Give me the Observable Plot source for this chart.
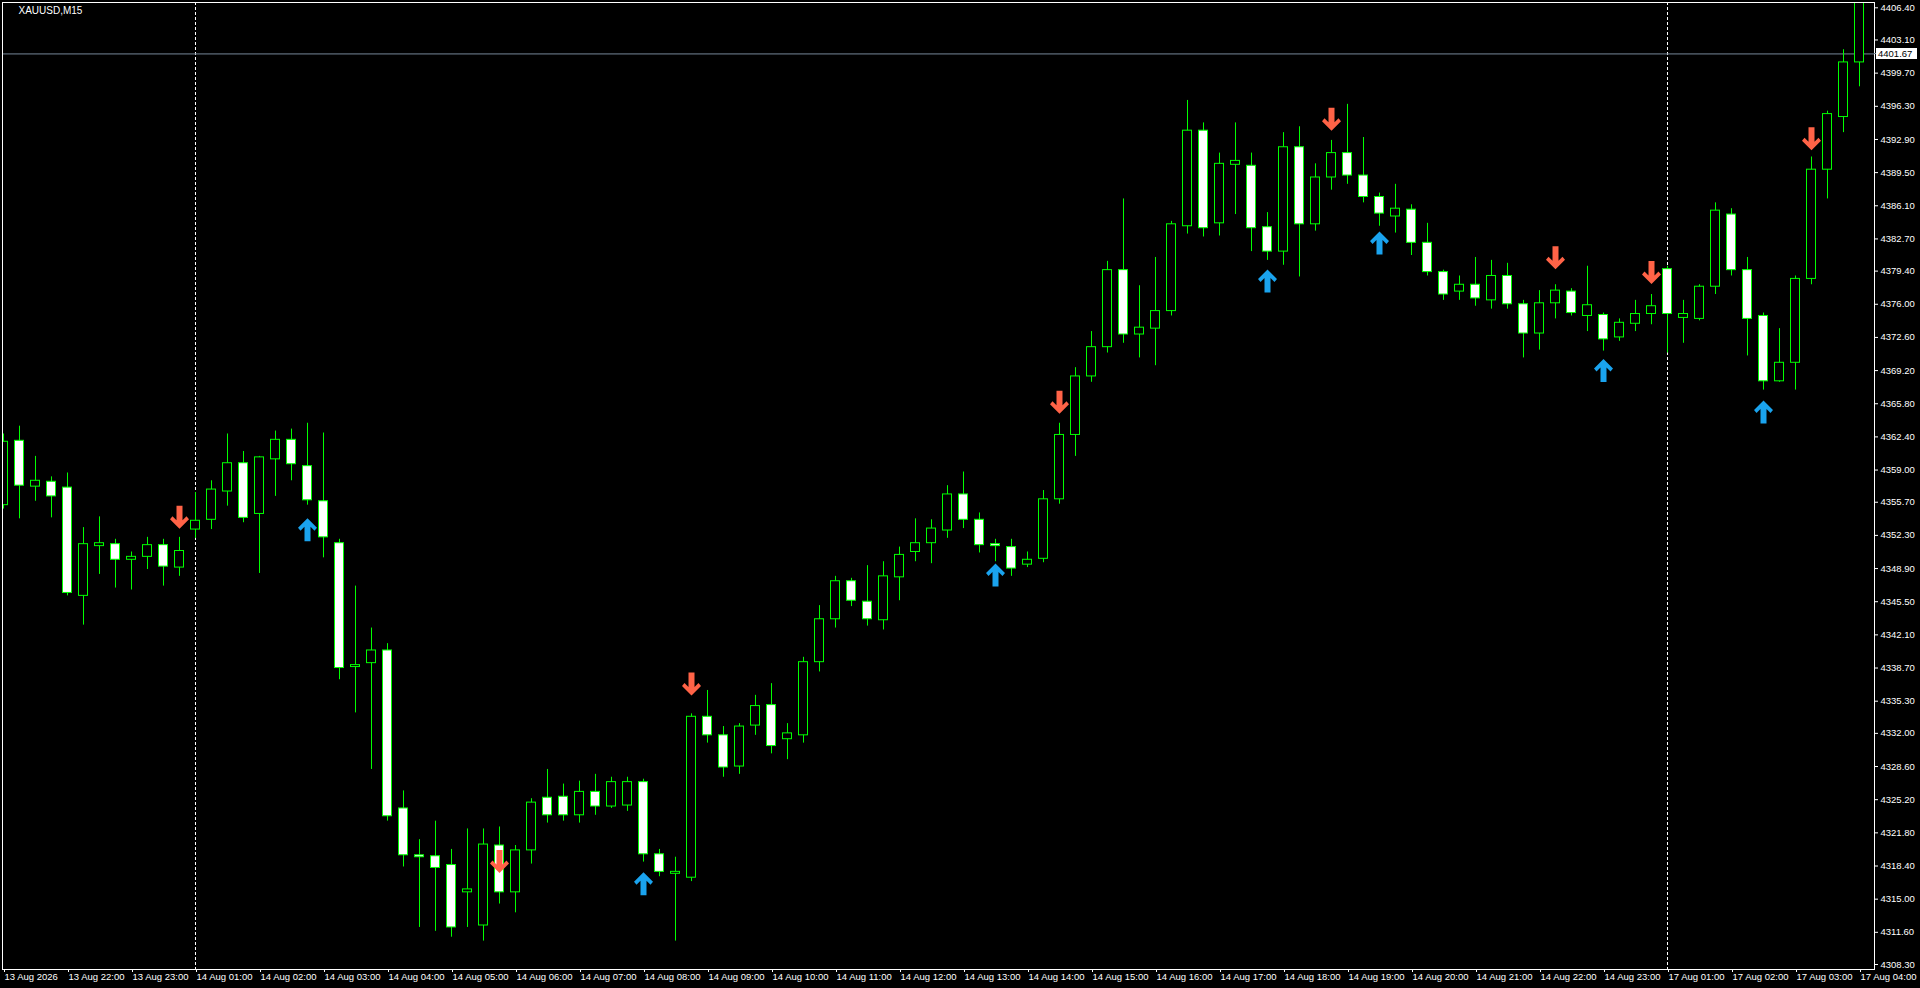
<!DOCTYPE html>
<html><head><meta charset="utf-8">
<script src="https://cdn.jsdelivr.net/npm/d3@7"></script>
<script src="https://cdn.jsdelivr.net/npm/@observablehq/plot@0.6"></script>
<style>html,body{margin:0;padding:0;background:#000;overflow:hidden}</style>
</head><body><div id="chart"></div>
<script>
const symbolName = "XAUUSD,M15";
const opens  = [4355.4,4362.0,4357.3,4357.8,4357.2,4346.1,4351.2,4351.4,4349.8,4350.1,4351.3,4349.0,4352.9,4353.9,4356.8,4359.7,4354.5,4360.1,4362.1,4359.4,
4355.8,4351.5,4338.8,4339.2,4340.5,4324.3,4319.5,4319.4,4318.5,4315.7,4312.3,4320.5,4315.7,4320.0,4325.4,4325.5,4323.6,4326.0,4324.5,4324.6,
4327.0,4319.6,4317.6,4317.2,4333.7,4331.8,4328.6,4332.8,4334.9,4331.4,4331.8,4339.3,4343.7,4347.6,4345.5,4343.6,4348.0,4350.6,4351.5,4352.8,
4356.5,4353.9,4351.4,4351.1,4349.3,4349.9,4356.0,4362.6,4368.6,4371.6,4379.5,4372.9,4373.5,4375.3,4384.0,4393.8,4384.3,4390.3,4390.2,4383.9,
4381.4,4392.1,4384.2,4389.0,4391.5,4389.2,4387.0,4385.0,4385.7,4382.3,4379.3,4377.3,4378.0,4376.4,4378.9,4376.0,4373.0,4376.1,4377.3,4374.8,
4374.9,4372.6,4374.0,4375.0,4379.6,4374.6,4374.5,4377.8,4385.2,4379.5,4374.8,4368.1,4370.0,4378.6,4389.8,4395.2,4400.8];
const highs  = [4362.7,4363.5,4360.4,4358.3,4358.7,4353.1,4354.2,4351.9,4350.6,4352.1,4351.9,4352.1,4356.7,4357.9,4362.7,4360.9,4360.4,4363.0,4363.2,4363.8,
4362.8,4351.9,4347.1,4342.8,4341.2,4326.1,4321.1,4323.0,4320.1,4322.2,4322.2,4322.4,4320.5,4325.3,4328.3,4326.8,4327.1,4327.8,4327.5,4327.5,
4327.3,4320.1,4319.3,4334.0,4336.4,4332.7,4333.0,4335.9,4337.1,4333.0,4339.8,4345.1,4348.1,4347.9,4349.2,4349.6,4351.1,4354.0,4353.9,4357.4,
4358.8,4354.6,4351.9,4351.9,4350.6,4356.9,4363.8,4369.5,4373.2,4380.4,4386.8,4377.9,4380.8,4384.5,4396.9,4394.6,4391.5,4394.6,4391.5,4385.4,
4393.6,4394.2,4390.4,4392.8,4396.5,4393.1,4387.4,4388.3,4386.2,4384.3,4379.5,4378.9,4380.8,4380.5,4380.2,4376.4,4377.4,4378.0,4377.6,4379.9,
4375.1,4374.5,4376.4,4377.0,4379.9,4376.4,4378.0,4386.4,4385.8,4380.8,4375.1,4373.5,4378.9,4391.1,4395.8,4402.1,4409.0];
const lows   = [4355.0,4354.0,4355.8,4354.1,4346.1,4343.1,4348.3,4346.9,4346.7,4348.8,4347.1,4348.1,4352.0,4352.9,4355.3,4353.6,4348.4,4356.3,4357.9,4355.4,
4350.0,4337.5,4334.1,4328.3,4323.0,4318.3,4312.1,4311.7,4311.1,4312.1,4310.7,4314.5,4313.6,4318.6,4322.8,4323.0,4322.8,4323.6,4324.3,4324.0,
4318.8,4317.3,4310.7,4316.8,4331.0,4327.5,4327.8,4331.8,4329.9,4329.3,4331.0,4338.3,4342.8,4345.0,4343.0,4342.6,4345.6,4349.6,4349.4,4352.0,
4353.0,4350.5,4349.6,4348.1,4349.0,4349.5,4355.5,4360.4,4368.0,4371.0,4372.0,4370.5,4369.7,4374.8,4383.2,4382.9,4383.0,4385.2,4381.4,4380.5,
4380.0,4378.8,4383.5,4387.7,4388.3,4386.4,4384.0,4383.3,4381.0,4378.9,4376.4,4376.4,4375.8,4375.5,4375.5,4370.5,4371.3,4374.5,4374.8,4373.2,
4371.2,4372.2,4373.2,4373.9,4371.0,4372.0,4374.3,4377.0,4378.9,4370.7,4367.2,4368.0,4367.2,4378.0,4386.8,4393.6,4398.3];
const closes = [4361.9,4357.4,4357.9,4356.3,4346.4,4351.4,4351.5,4349.8,4350.1,4351.3,4349.1,4350.7,4353.8,4357.0,4359.7,4354.1,4360.3,4362.1,4359.6,4355.9,
4352.1,4338.7,4339.0,4340.5,4323.5,4319.5,4319.3,4318.2,4312.1,4316.0,4320.6,4315.7,4320.0,4324.9,4323.6,4323.6,4326.0,4324.5,4327.0,4327.0,
4319.6,4317.8,4317.8,4333.7,4331.8,4328.5,4332.7,4334.8,4330.7,4332.0,4339.3,4343.7,4347.6,4345.6,4343.7,4348.1,4350.3,4351.5,4353.0,4356.5,
4353.9,4351.3,4351.2,4348.9,4349.8,4356.0,4362.6,4368.6,4371.6,4379.5,4372.9,4373.6,4375.3,4384.2,4393.8,4383.8,4390.4,4390.7,4383.8,4381.4,
4392.1,4384.2,4389.0,4391.5,4389.2,4387.0,4385.3,4385.8,4382.3,4379.3,4377.0,4378.0,4376.6,4378.9,4376.0,4373.0,4376.1,4377.4,4375.1,4375.9,
4372.4,4374.1,4375.0,4375.8,4375.0,4375.0,4377.8,4385.6,4379.5,4374.5,4368.1,4370.0,4378.6,4389.8,4395.5,4400.8,4408.0];

const xTickLabels = ["13 Aug 2026","13 Aug 22:00","13 Aug 23:00","14 Aug 01:00","14 Aug 02:00","14 Aug 03:00","14 Aug 04:00","14 Aug 05:00",
"14 Aug 06:00","14 Aug 07:00","14 Aug 08:00","14 Aug 09:00","14 Aug 10:00","14 Aug 11:00","14 Aug 12:00","14 Aug 13:00","14 Aug 14:00",
"14 Aug 15:00","14 Aug 16:00","14 Aug 17:00","14 Aug 18:00","14 Aug 19:00","14 Aug 20:00","14 Aug 21:00","14 Aug 22:00","14 Aug 23:00",
"17 Aug 01:00","17 Aug 02:00","17 Aug 03:00","17 Aug 04:00"];
const barsPerLabel = 4;
const yTickValues = [4406.40,4403.10,4399.70,4396.30,4392.90,4389.50,4386.10,4382.70,4379.40,4376.00,4372.60,4369.20,4365.80,4362.40,4359.00,
4355.70,4352.30,4348.90,4345.50,4342.10,4338.70,4335.30,4332.00,4328.60,4325.20,4321.80,4318.40,4315.00,4311.60,4308.30];
const bidPrice = 4401.67;
const separatorBars = [12, 104];
const downArrowBars = [11, 31, 43, 66, 83, 97, 103, 113];
const downArrowPrices = [4354.15, 4318.85, 4337.07, 4365.95, 4394.97, 4380.78, 4379.27, 4392.96];
const upArrowBars = [19, 40, 62, 79, 86, 100, 110];
const upArrowPrices = [4352.89, 4316.59, 4348.24, 4378.39, 4382.28, 4369.22, 4364.95];

const bars = opens.map((o, i) => ({i, o, h: highs[i], l: lows[i], c: closes[i]}));
const downArrows = downArrowBars.map((b, j) => ({b, p: downArrowPrices[j]}));
const upArrows = upArrowBars.map((b, j) => ({b, p: upArrowPrices[j]}));
const xTicks = xTickLabels.map((_, j) => j * barsPerLabel);

function arrowSymbol(dir) {
  const pts = [[-3,-11.5],[3,-11.5],[3,3],[7,-1],[9.5,2],[0,11.5],[-9.5,2],[-7,-1],[-3,3]];
  return {draw(ctx) {
    pts.forEach(([x, y], k) => k ? ctx.lineTo(x, y * dir) : ctx.moveTo(x, y * dir));
    ctx.closePath();
  }};
}

const W = 1920, H = 988;
const mL = 2, mR = 46, mT = 2, mB = 19;
const barPx = 16, firstBarPx = 3;
const xDomain = [(mL - firstBarPx) / barPx, (W - mR - firstBarPx) / barPx];
const pxPerUnit = (964 - 7.3) / (yTickValues[0] - yTickValues[yTickValues.length - 1]);
const yDomain = [yTickValues[0] - (H - mB - 7.3) / pxPerUnit, yTickValues[0] + (7.3 - mT) / pxPerUnit];
const halfBody = 4.5 / barPx;
const font = "'Liberation Sans', Arial, sans-serif";

const chart = Plot.plot({
  width: W, height: H,
  marginLeft: mL, marginRight: mR, marginTop: mT, marginBottom: mB,
  style: {background: "#000", color: "#fff", fontFamily: font, fontSize: "9.5px", overflow: "visible"},
  x: {type: "linear", domain: xDomain, axis: null},
  y: {type: "linear", domain: yDomain, axis: null},
  marks: [
    Plot.ruleX(separatorBars, {x: d => d, stroke: "#fff", strokeDasharray: "3,2"}),
    Plot.ruleY([bidPrice], {y: d => d, stroke: "#778899"}),
    Plot.ruleX(bars, {x: "i", y1: "l", y2: "h", stroke: "#00ff00", clip: true}),
    Plot.rect(bars, {
      x1: d => d.i - halfBody, x2: d => d.i + halfBody,
      y1: d => Math.min(d.o, d.c), y2: d => Math.max(d.o, d.c),
      fill: d => d.c > d.o ? "#000000" : "#ffffff",
      stroke: "#00ff00", clip: true
    }),
    Plot.dot(downArrows, {x: "b", y: "p", symbol: arrowSymbol(1), fill: "#ff6347", stroke: null, r: 5}),
    Plot.dot(upArrows, {x: "b", y: "p", symbol: arrowSymbol(-1), fill: "#1aa3ee", stroke: null, r: 5}),
    Plot.frame({stroke: "#fff"}),
    Plot.axisY({anchor: "right", ticks: yTickValues, tickFormat: d => d.toFixed(2), tickSize: 3, tickPadding: 3, stroke: "#fff", fill: "#fff", fontSize: 9.5}),
    Plot.axisX({anchor: "bottom", ticks: xTicks, tickFormat: d => xTickLabels[Math.round(d / barsPerLabel)], tickSize: 3, tickPadding: 1, textAnchor: "start", dx: 1, stroke: "#fff", fill: "#fff", fontSize: 9.5}),
    Plot.text([symbolName], {frameAnchor: "top-left", dx: 16, dy: 4, lineAnchor: "top", textAnchor: "start", fill: "#fff", fontSize: 10})
  ]
});

// bid price label box on the price axis
const svg = d3.select(chart);
const yb = chart.scale("y").apply(bidPrice);
const g = svg.append("g");
g.append("line").attr("x1", W - mR).attr("x2", W - mR + 3).attr("y1", Math.round(yb) + 0.5).attr("y2", Math.round(yb) + 0.5).attr("stroke", "#778899");
g.append("rect").attr("x", W - mR + 2).attr("y", Math.round(yb) - 5).attr("width", 41).attr("height", 11).attr("fill", "#fff");
g.append("text").attr("x", W - mR + 4).attr("y", Math.round(yb) + 0.5).attr("dy", "0.35em").attr("fill", "#000")
  .attr("text-anchor", "start").attr("font-family", font).attr("font-size", 9.5).text(bidPrice.toFixed(2));

document.getElementById("chart").appendChild(chart);
</script>
</body></html>
